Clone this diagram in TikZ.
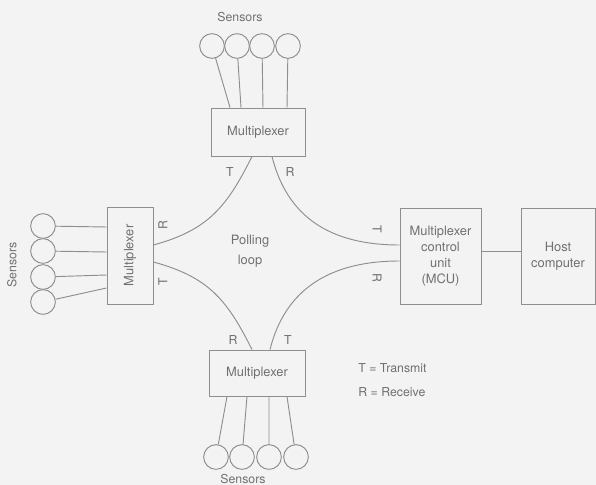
\documentclass[tikz,border=0pt]{standalone}
\usepackage{fontspec}
\setmainfont{TeX Gyre Heros}
\definecolor{linegray}{HTML}{8E8E8E}
\definecolor{textgray}{HTML}{707070}
\definecolor{paper}{HTML}{F3F3F3}
\begin{document}
\begin{tikzpicture}[x=0.03cm,y=-0.03cm,
  box/.style={draw=linegray,line width=0.8pt,text=textgray,inner sep=0pt,align=center,font=\fontsize{11}{13.6}\selectfont},
  boxtext/.style={text=textgray,inner sep=0pt,font=\fontsize{11}{13.6}\selectfont},
  sensor/.style={circle,draw=linegray,line width=0.8pt,minimum size=0.74cm,inner sep=0pt},
  wire/.style={draw=linegray,line width=0.8pt},
  lbl/.style={text=textgray,inner sep=1pt,font=\fontsize{10.5}{12}\selectfont}]
\fill[paper] (0,0) rectangle (596,485);
\useasboundingbox (0,0) rectangle (596,485);
% boxes
\node[box,minimum width=2.82cm,minimum height=1.44cm] (topmux) at (258,132) {Multiplexer};
\node[box,minimum width=1.38cm,minimum height=2.91cm] (leftmux) at (130,255.5) {};
\node[boxtext,rotate=90] (lefttext) at (leftmux.center) {Multiplexer};
\node[box,minimum width=2.88cm,minimum height=1.38cm] (botmux) at (257,373) {Multiplexer};
\node[box,minimum width=2.43cm,minimum height=2.88cm] (mcu) at (440.5,256) {Multiplexer\\control\\unit\\(MCU)};
\node[box,minimum width=2.22cm,minimum height=2.88cm] (host) at (558,256) {Host\\computer};
% sensors
\node[sensor] (st1) at (212,46) {};
\node[sensor] (st2) at (237,46) {};
\node[sensor] (st3) at (262,46) {};
\node[sensor] (st4) at (288,46) {};
\node[sensor] (sl1) at (43,226) {};
\node[sensor] (sl2) at (43,251) {};
\node[sensor] (sl3) at (43,277) {};
\node[sensor] (sl4) at (43,302) {};
\node[sensor] (sb1) at (216,457) {};
\node[sensor] (sb2) at (242,457) {};
\node[sensor] (sb3) at (269,457) {};
\node[sensor] (sb4) at (296,457) {};
% sensor wires
\draw[wire] (st1) -- ([xshift=-0.84cm]topmux.north);
\draw[wire] (st2) -- ([xshift=-0.51cm]topmux.north);
\draw[wire] (st3) -- ([xshift=0.15cm]topmux.north);
\draw[wire] (st4) -- ([xshift=0.87cm]topmux.north);
\draw[wire] (sl1) -- ([yshift=0.855cm]leftmux.west);
\draw[wire] (sl2) -- ([yshift=0.105cm]leftmux.west);
\draw[wire] (sl3) -- ([yshift=-0.585cm]leftmux.west);
\draw[wire] (sl4) -- ([yshift=-0.975cm]leftmux.west);
\draw[wire] ([xshift=-0.9cm]botmux.south) -- (sb1);
\draw[wire] ([xshift=-0.3cm]botmux.south) -- (sb2);
\draw[wire] ([xshift=0.36cm]botmux.south) -- (sb3);
\draw[wire] ([xshift=0.9cm]botmux.south) -- (sb4);
% polling loop
\draw[wire] ([xshift=-0.18cm]topmux.south) .. controls +(-25,50) and +(55,-15) .. ([yshift=0.315cm]leftmux.east);
\draw[wire] ([xshift=0.42cm]topmux.south) .. controls +(15,60) and +(-70,0) .. ([yshift=0.33cm]mcu.west);
\draw[wire] ([xshift=0.39cm]botmux.north) .. controls +(15,-60) and +(-70,0) .. ([yshift=-0.15cm]mcu.west);
\draw[wire] ([yshift=-0.195cm]leftmux.east) .. controls +(55,15) and +(-25,-50) .. ([xshift=-0.15cm]botmux.north);
\draw[wire] ([yshift=0.15cm]mcu.east) -- ([yshift=0.15cm]host.west);
% labels
\node[lbl] (tt) at (230,172) {T};
\node[lbl] (tr) at (290,172) {R};
\node[lbl] (br) at (233,340) {R};
\node[lbl] (bt) at (288,340) {T};
\node[lbl,rotate=90] (lr) at (163,225) {R};
\node[lbl,rotate=90] (lt) at (163,282) {T};
\node[lbl,rotate=-90] (mt) at (377,229) {T};
\node[lbl,rotate=-90] (mr) at (377,278) {R};
\node[lbl] (stop) at (240,17) {Sensors};
\node[lbl] (sbot) at (243,479) {Sensors};
\node[lbl,rotate=90] (sleft) at (12,265) {Sensors};
\node[lbl,align=center,font=\fontsize{11}{17}\selectfont] (loop) at (250,251) {Polling\\loop};
\node[lbl,anchor=west] (leg1) at (357,368) {T = Transmit};
\node[lbl,anchor=west] (leg2) at (357,392) {R = Receive};
\end{tikzpicture}
\end{document}
